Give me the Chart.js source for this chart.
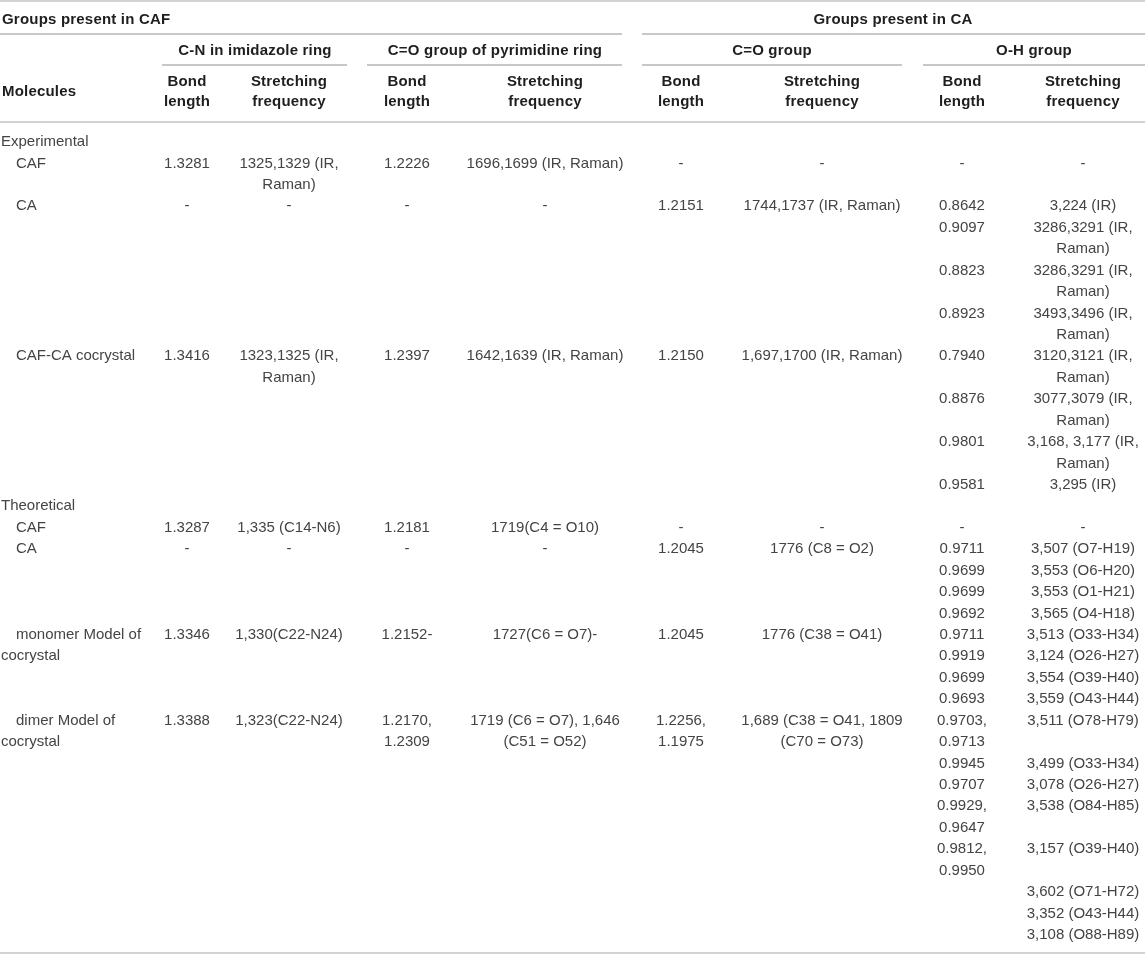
<!DOCTYPE html>
<html>
<head>
<meta charset="utf-8">
<script src="https://cdn.jsdelivr.net/npm/chart.js"></script>
<style>
  html, body { margin: 0; padding: 0; background: #fff; }
  #table { display: block; }
</style>
</head>
<body>
<canvas id="table" width="1145" height="956"></canvas>
<script>
// ---- table content ----
const groupHeaders = ["Groups present in CAF", "Groups present in CA"];
const subHeaders = ["C-N in imidazole ring", "C=O group of pyrimidine ring", "C=O group", "O-H group"];
const colHeaders = ["Bond\nlength", "Stretching\nfrequency"];
const firstColHeader = "Molecules";

const rowLabels = ["Experimental", "CAF", "CA", "CAF-CA cocrystal", "Theoretical", "CAF", "CA",
  "monomer Model of\ncocrystal", "dimer Model of\ncocrystal"];
const rowIsGroup = [true, false, false, false, true, false, false, false, false];

const cnBond = ["", "1.3281", "-", "1.3416", "", "1.3287", "-", "1.3346", "1.3388"];
const cnFreq = ["", "1325,1329 (IR,\nRaman)", "-", "1323,1325 (IR,\nRaman)", "", "1,335 (C14-N6)", "-",
  "1,330(C22-N24)", "1,323(C22-N24)"];
const pyrBond = ["", "1.2226", "-", "1.2397", "", "1.2181", "-", "1.2152-", "1.2170,\n1.2309"];
const pyrFreq = ["", "1696,1699 (IR, Raman)", "-", "1642,1639 (IR, Raman)", "", "1719(C4 = O10)", "-",
  "1727(C6 = O7)-", "1719 (C6 = O7), 1,646\n(C51 = O52)"];
const coBond = ["", "-", "1.2151", "1.2150", "", "-", "1.2045", "1.2045", "1.2256,\n1.1975"];
const coFreq = ["", "-", "1744,1737 (IR, Raman)", "1,697,1700 (IR, Raman)", "", "-", "1776 (C8 = O2)",
  "1776 (C38 = O41)", "1,689 (C38 = O41, 1809\n(C70 = O73)"];
const ohBond = [
  [], ["-"],
  ["0.8642", "0.9097", "0.8823", "0.8923"],
  ["0.7940", "0.8876", "0.9801", "0.9581"],
  [], ["-"],
  ["0.9711", "0.9699", "0.9699", "0.9692"],
  ["0.9711", "0.9919", "0.9699", "0.9693"],
  ["0.9703,\n0.9713", "0.9945", "0.9707", "0.9929,\n0.9647", "0.9812,\n0.9950", "", "", ""]
];
const ohFreq = [
  [], ["-"],
  ["3,224 (IR)", "3286,3291 (IR,\nRaman)", "3286,3291 (IR,\nRaman)", "3493,3496 (IR,\nRaman)"],
  ["3120,3121 (IR,\nRaman)", "3077,3079 (IR,\nRaman)", "3,168, 3,177 (IR,\nRaman)", "3,295 (IR)"],
  [], ["-"],
  ["3,507 (O7-H19)", "3,553 (O6-H20)", "3,553 (O1-H21)", "3,565 (O4-H18)"],
  ["3,513 (O33-H34)", "3,124 (O26-H27)", "3,554 (O39-H40)", "3,559 (O43-H44)"],
  ["3,511 (O78-H79)", "3,499 (O33-H34)", "3,078 (O26-H27)", "3,538 (O84-H85)", "3,157 (O39-H40)",
    "3,602 (O71-H72)", "3,352 (O43-H44)", "3,108 (O88-H89)"]
];

// ---- layout / style ----
const W = 1145, H = 956;
const LINE = 21.43;     // px per text line
const FIRST = 142;      // centre of first body line
const colX = [2, 187, 289, 407, 545, 681, 822, 962, 1083];
const indentX = 16;
const subHeaderX = [255, 495, 772, 1034];
const groupHeaderX = [2, 893];
const headY = { group: 20, sub: 51, col1: 82, col2: 102, first: 92 };
const rules = [
  { y: 1, x0: 0, x1: W, color: "#d2d2d2", w: 2 },
  { y: 34, x0: 0, x1: 622, color: "#8f8f8f", w: 1 },
  { y: 34, x0: 642, x1: W, color: "#8f8f8f", w: 1 },
  { y: 65, x0: 162, x1: 347, color: "#8f8f8f", w: 1 },
  { y: 65, x0: 367, x1: 622, color: "#8f8f8f", w: 1 },
  { y: 65, x0: 642, x1: 902, color: "#8f8f8f", w: 1 },
  { y: 65, x0: 923, x1: W, color: "#8f8f8f", w: 1 },
  { y: 122, x0: 0, x1: W, color: "#d2d2d2", w: 2 },
  { y: 953, x0: 0, x1: W, color: "#d2d2d2", w: 2 }
];
const headFont = "bold 15px 'Liberation Sans', Arial, sans-serif";
const bodyFont = "15px 'Liberation Sans', Arial, sans-serif";
const headColor = "#1e1e1e";
const bodyColor = "#444444";

const toLine = px => (px - FIRST) / LINE;
const split = s => (s === "" ? [] : s.split("\n"));

// ---- build text points (one per text line) ----
const headPts = [], bodyPts = [];
function addHead(text, x, y, align) {
  headPts.push({ x: x, y: toLine(y), text: text, align: align });
}
addHead(groupHeaders[0], groupHeaderX[0], headY.group, "left");
addHead(groupHeaders[1], groupHeaderX[1], headY.group, "center");
subHeaders.forEach((t, i) => addHead(t, subHeaderX[i], headY.sub, "center"));
addHead(firstColHeader, colX[0], headY.first, "left");
for (let c = 1; c <= 8; c++) {
  const lines = split(colHeaders[(c - 1) % 2]);
  addHead(lines[0], colX[c], headY.col1, "center");
  addHead(lines[1], colX[c], headY.col2, "center");
}

const singleCols = [cnBond, cnFreq, pyrBond, pyrFreq, coBond, coFreq];
let line = 0;
rowLabels.forEach((label, r) => {
  let rowLines = 1;
  split(label).forEach((t, k) => {
    const x = rowIsGroup[r] || k > 0 ? colX[0] - 1 : indentX;
    bodyPts.push({ x: x, y: line + k, text: t, align: "left" });
  });
  rowLines = Math.max(rowLines, split(label).length);
  singleCols.forEach((col, c) => {
    const lines = split(col[r]);
    lines.forEach((t, k) => bodyPts.push({ x: colX[c + 1], y: line + k, text: t, align: "center" }));
    rowLines = Math.max(rowLines, lines.length);
  });
  let sub = 0;
  ohBond[r].forEach((b, j) => {
    const bl = split(b), fl = split(ohFreq[r][j]);
    bl.forEach((t, k) => bodyPts.push({ x: colX[7], y: line + sub + k, text: t, align: "center" }));
    fl.forEach((t, k) => bodyPts.push({ x: colX[8], y: line + sub + k, text: t, align: "center" }));
    sub += Math.max(1, bl.length, fl.length);
  });
  rowLines = Math.max(rowLines, sub);
  line += rowLines;
});

// ---- draws text and rules through the chart scales ----
const tablePlugin = {
  id: "tableText",
  beforeDatasetsDraw(chart) {
    const ctx = chart.ctx, sx = chart.scales.x, sy = chart.scales.y;
    ctx.save();
    rules.forEach(rl => {
      const y = sy.getPixelForValue(toLine(rl.y));
      ctx.strokeStyle = rl.color;
      ctx.lineWidth = rl.w;
      ctx.beginPath();
      ctx.moveTo(sx.getPixelForValue(rl.x0), y);
      ctx.lineTo(sx.getPixelForValue(rl.x1), y);
      ctx.stroke();
    });
    ctx.restore();
  },
  afterDatasetsDraw(chart) {
    const ctx = chart.ctx;
    ctx.save();
    ctx.textBaseline = "middle";
    chart.data.datasets.forEach((ds, di) => {
      const meta = chart.getDatasetMeta(di);
      ctx.font = ds.textFont;
      ctx.fillStyle = ds.textColor;
      ctx.letterSpacing = ds.spacing;
      meta.data.forEach((el, i) => {
        const p = ds.data[i];
        ctx.textAlign = p.align;
        ctx.fillText(p.text, el.x, el.y);
      });
    });
    ctx.restore();
  }
};

new Chart(document.getElementById("table"), {
  type: "scatter",
  data: {
    datasets: [
      { label: "header", data: headPts, pointRadius: 0, textFont: headFont, textColor: headColor, spacing: "0.2px" },
      { label: "body", data: bodyPts, pointRadius: 0, textFont: bodyFont, textColor: bodyColor, spacing: "0px" }
    ]
  },
  options: {
    responsive: false,
    animation: false,
    devicePixelRatio: 1,
    layout: { padding: 0 },
    plugins: { legend: { display: false }, tooltip: { enabled: false } },
    scales: {
      x: { type: "linear", display: false, min: 0, max: W },
      y: { type: "linear", display: false, reverse: true, min: toLine(0), max: toLine(H) }
    }
  },
  plugins: [tablePlugin]
});
</script>
</body>
</html>
